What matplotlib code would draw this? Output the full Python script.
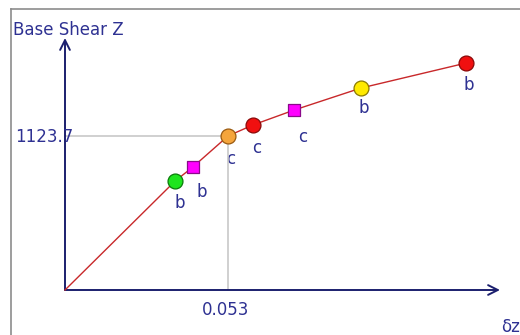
import matplotlib
matplotlib.use("Agg")
import matplotlib.pyplot as plt
from matplotlib.lines import Line2D

# Pushover curve: roof displacement vs base shear, with hinge-state points
disp = [0.0, 0.0358, 0.0416, 0.053, 0.0611, 0.0745, 0.0963, 0.1304]
shear = [0.0, 795.0, 898.0, 1123.7, 1204.0, 1313.0, 1474.0, 1656.0]
state = ["", "b", "b", "c", "c", "c", "b", "b"]
shape = ["", "o", "s", "o", "o", "s", "o", "o"]
fill = ["", "#1ee51e", "#ff00ff", "#f5a53c", "#f01010", "#ff00ff", "#ffea00", "#f01010"]
edge = ["", "#0a7a0a", "#8a0a8a", "#9a5a10", "#8a0808", "#8a0a8a", "#8a7a00", "#8a0808"]
label_off = [(0, 0), (5, -22), (9, -25), (3, -23), (4, -23), (9, -27), (3, -20), (3, -22)]

ref_x = disp[3]
ref_y = shear[3]
ref_x_text = "0.053"
ref_y_text = "1123.7"

W, H = 520, 335
ox, oy = 65, 290            # origin in pixels
sx = ref_x / 163.0          # data units per pixel
sy = ref_y / 154.0

fig = plt.figure(figsize=(W / 100, H / 100), dpi=100)
ax = fig.add_axes([0, 0, 1, 1])
ax.set_xlim(-ox * sx, (W - ox) * sx)
ax.set_ylim(-(H - oy) * sy, oy * sy)
ax.axis("off")

navy = "#1b1f6e"
txt = "#2e3192"

# outer panel border
fig.add_artist(Line2D([11 / W, 11 / W], [0, 1 - 9 / H], color="#8c8c8c", lw=1.2))
fig.add_artist(Line2D([11 / W, 1], [1 - 9 / H, 1 - 9 / H], color="#8c8c8c", lw=1.2))

# reference lines at the highlighted point
ax.plot([0, ref_x], [ref_y, ref_y], color="#c8c8c8", lw=1.2, zorder=3)
ax.plot([ref_x, ref_x], [0, ref_y], color="#c8c8c8", lw=1.2, zorder=3)

# axes with open arrowheads
x_end = (500 - ox) * sx
y_end = (oy - 38) * sy
ax.annotate("", xy=(x_end, 0), xytext=(0, 0),
            arrowprops=dict(arrowstyle="->,head_length=0.7,head_width=0.35",
                            color=navy, lw=1.4, shrinkA=0, shrinkB=0), zorder=4)
ax.annotate("", xy=(0, y_end), xytext=(0, 0),
            arrowprops=dict(arrowstyle="->,head_length=0.7,head_width=0.35",
                            color=navy, lw=1.4, shrinkA=0, shrinkB=0), zorder=4)

# curve
ax.plot(disp, shear, color="#c8282a", lw=1.0, zorder=5)

# hinge-state markers and labels
for x, y, s, m, fc, ec, off in zip(disp, shear, state, shape, fill, edge, label_off):
    if not m:
        continue
    size = 115 if m == "o" else 72
    ax.scatter([x], [y], s=size, marker=m, facecolor=fc, edgecolor=ec,
               linewidths=0.9, zorder=6)
    ax.annotate(s, (x, y), xytext=off, textcoords="offset pixels",
                ha="center", va="center", fontsize=12, color=txt, zorder=2)

# axis texts
fs = 12
fig.text(13 / W, 1 - 30 / H, "Base Shear Z", fontsize=fs, color=txt,
         ha="left", va="center")
fig.text(15 / W, 1 - 137 / H, ref_y_text, fontsize=fs, color=txt,
         ha="left", va="center")
fig.text(226 / W, 1 - 310 / H, ref_x_text, fontsize=fs, color=txt,
         ha="center", va="center")
fig.text(501 / W, 1 - 327 / H, "δz", fontsize=fs, color=txt,
         ha="left", va="center")

fig.savefig("out.png", dpi=100, facecolor="white")
